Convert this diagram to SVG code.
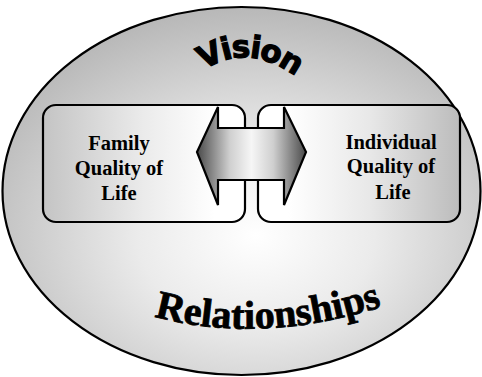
<svg xmlns="http://www.w3.org/2000/svg" width="482" height="377" viewBox="0 0 482 377">
<defs>
<radialGradient id="gBg" cx="0.53" cy="0.62" r="0.62">
<stop offset="0" stop-color="#ffffff"/>
<stop offset="0.4" stop-color="#ebebeb"/>
<stop offset="1" stop-color="#b8b8b8"/>
</radialGradient>
<linearGradient id="gLeft" x1="0" y1="0" x2="1" y2="0">
<stop offset="0" stop-color="#c4c4c4"/>
<stop offset="0.5" stop-color="#ebebeb"/>
<stop offset="0.85" stop-color="#ffffff"/>
</linearGradient>
<linearGradient id="gRight" x1="0" y1="0" x2="1" y2="0">
<stop offset="0.15" stop-color="#ffffff"/>
<stop offset="0.55" stop-color="#e8e8e8"/>
<stop offset="1" stop-color="#bcbcbc"/>
</linearGradient>
<linearGradient id="gArrow" gradientUnits="userSpaceOnUse" x1="197" y1="0" x2="306" y2="0">
<stop offset="0" stop-color="#4a4a4a"/>
<stop offset="0.3" stop-color="#cfcfcf"/>
<stop offset="0.5" stop-color="#f6f6f6"/>
<stop offset="0.7" stop-color="#cfcfcf"/>
<stop offset="1" stop-color="#4a4a4a"/>
</linearGradient>
<path id="arcVision" d="M 186 84 Q 246 28 312 90"/>
<path id="arcRel" d="M 146 314 Q 258 348 390 304"/>
</defs>
<style>
.outline{stroke:#000;stroke-width:2.2;}
.label{font-family:"Liberation Serif","Times New Roman",serif;font-weight:bold;font-size:20.5px;fill:#000;text-anchor:middle;}
.vision{font-family:"DejaVu Sans",Verdana,sans-serif;font-weight:bold;font-size:31px;fill:#000;stroke:#000;stroke-width:1.2;letter-spacing:-1.5px;}
.rel{font-family:"Liberation Serif","Times New Roman",serif;font-weight:bold;font-size:40px;fill:#000;stroke:#000;stroke-width:0.8;}
</style>
<g id="background">
<ellipse cx="241.5" cy="191" rx="239" ry="184" fill="url(#gBg)" class="outline"/>
<text class="vision"><textPath href="#arcVision" startOffset="50%" text-anchor="middle">Vision</textPath></text>
<text class="rel"><textPath href="#arcRel" startOffset="50%" text-anchor="middle">Relationships</textPath></text>
</g>
<g id="family">
<rect x="43" y="105" width="202" height="117" rx="13" ry="13" fill="url(#gLeft)" class="outline"/>
<text class="label" x="119" y="150">Family</text>
<text class="label" x="119" y="175">Quality of</text>
<text class="label" x="119" y="200">Life</text>
</g>
<g id="individual">
<rect x="258" y="105" width="202" height="117" rx="13" ry="13" fill="url(#gRight)" class="outline"/>
<text class="label" x="391" y="149">Individual</text>
<text class="label" x="391" y="173">Quality of</text>
<text class="label" x="393" y="199">Life</text>
</g>
<g id="connectors">
<path d="M 197 152 L 218 107 L 218 128 L 284 128 L 284 107 L 306 152 L 284 205 L 284 180 L 218 180 L 218 205 Z" fill="url(#gArrow)" class="outline" stroke-linejoin="miter"/>
</g>
</svg>
